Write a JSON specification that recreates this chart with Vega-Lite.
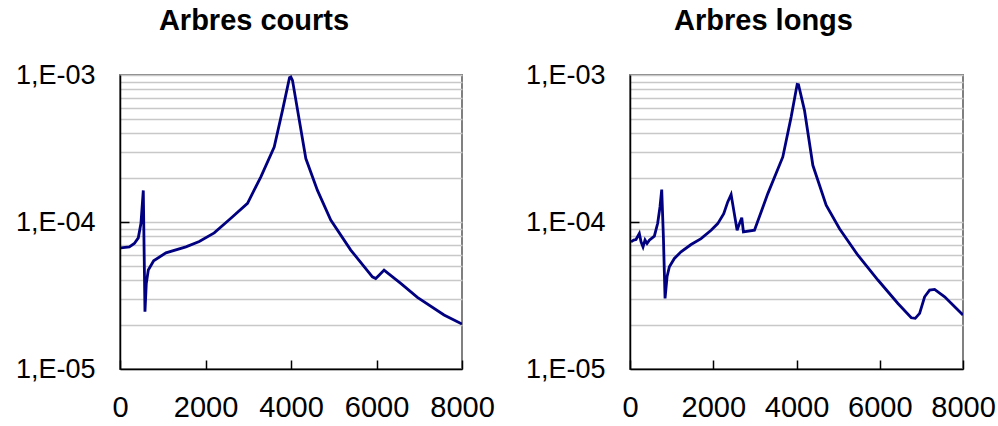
{
  "$schema": "https://vega.github.io/schema/vega-lite/v6.json",
  "padding": {"left": 14, "top": 6, "right": 5, "bottom": 5},
  "spacing": 28,
  "config": {
    "font": "Liberation Sans",
    "view": {"stroke": "#808080", "strokeWidth": 2},
    "title": {"font": "Liberation Sans", "fontSize": 29, "fontWeight": "bold", "color": "#000000", "offset": 25},
    "axis": {"labelFont": "Liberation Sans", "labelColor": "#000000", "domainColor": "#000000", "domainWidth": 1.5, "tickColor": "#000000", "tickWidth": 1.5, "titleFontSize": 0}
  },
  "datasets": {
    "courts": [
      {"f": 20, "v": 6.67e-5}, {"f": 218, "v": 6.77e-5}, {"f": 335, "v": 7.14e-5}, {"f": 428, "v": 7.8e-5},
      {"f": 490, "v": 9.8e-5}, {"f": 545, "v": 1.64e-4}, {"f": 584, "v": 2.45e-5}, {"f": 615, "v": 3.82e-5},
      {"f": 662, "v": 4.71e-5}, {"f": 787, "v": 5.45e-5}, {"f": 1075, "v": 6.17e-5}, {"f": 1542, "v": 6.77e-5},
      {"f": 1854, "v": 7.37e-5}, {"f": 2204, "v": 8.43e-5}, {"f": 2594, "v": 1.06e-4}, {"f": 2983, "v": 1.34e-4},
      {"f": 3295, "v": 2.03e-4}, {"f": 3607, "v": 3.24e-4}, {"f": 3801, "v": 5.75e-4}, {"f": 3965, "v": 9.6e-4},
      {"f": 3996, "v": 9.7e-4}, {"f": 4035, "v": 9.2e-4}, {"f": 4347, "v": 2.7e-4}, {"f": 4619, "v": 1.64e-4},
      {"f": 4930, "v": 1.03e-4}, {"f": 5398, "v": 6.44e-5}, {"f": 5904, "v": 4.24e-5}, {"f": 5982, "v": 4.13e-5},
      {"f": 6060, "v": 4.35e-5}, {"f": 6177, "v": 4.71e-5}, {"f": 6567, "v": 3.82e-5}, {"f": 6957, "v": 3.07e-5},
      {"f": 7580, "v": 2.33e-5}, {"f": 8000, "v": 2.02e-5}
    ],
    "longs": [
      {"f": 24, "v": 7.33e-5}, {"f": 88, "v": 7.53e-5}, {"f": 144, "v": 7.6e-5}, {"f": 224, "v": 8.35e-5},
      {"f": 265, "v": 7.33e-5}, {"f": 313, "v": 6.77e-5}, {"f": 361, "v": 7.53e-5}, {"f": 409, "v": 7.14e-5},
      {"f": 465, "v": 7.53e-5}, {"f": 585, "v": 8.01e-5}, {"f": 665, "v": 9.8e-5}, {"f": 721, "v": 1.27e-4},
      {"f": 762, "v": 1.66e-4}, {"f": 802, "v": 8.0e-5}, {"f": 842, "v": 3.02e-5}, {"f": 890, "v": 4.24e-5},
      {"f": 946, "v": 4.96e-5}, {"f": 1066, "v": 5.65e-5}, {"f": 1226, "v": 6.27e-5}, {"f": 1467, "v": 7.03e-5},
      {"f": 1707, "v": 7.71e-5}, {"f": 1948, "v": 8.79e-5}, {"f": 2108, "v": 9.75e-5}, {"f": 2252, "v": 1.14e-4},
      {"f": 2348, "v": 1.37e-4}, {"f": 2429, "v": 1.54e-4}, {"f": 2493, "v": 1.2e-4}, {"f": 2573, "v": 8.79e-5},
      {"f": 2629, "v": 9.75e-5}, {"f": 2685, "v": 1.07e-4}, {"f": 2725, "v": 8.57e-5}, {"f": 2990, "v": 8.79e-5},
      {"f": 3311, "v": 1.56e-4}, {"f": 3671, "v": 2.77e-4}, {"f": 3872, "v": 5.19e-4}, {"f": 4016, "v": 8.64e-4},
      {"f": 4048, "v": 8.6e-4}, {"f": 4192, "v": 5.75e-4}, {"f": 4393, "v": 2.43e-4}, {"f": 4713, "v": 1.3e-4},
      {"f": 5034, "v": 9.0e-5}, {"f": 5475, "v": 5.94e-5}, {"f": 5956, "v": 4.03e-5}, {"f": 6437, "v": 2.79e-5},
      {"f": 6757, "v": 2.23e-5}, {"f": 6853, "v": 2.21e-5}, {"f": 6958, "v": 2.39e-5}, {"f": 7078, "v": 3.1e-5},
      {"f": 7198, "v": 3.44e-5}, {"f": 7318, "v": 3.48e-5}, {"f": 7559, "v": 3.1e-5}, {"f": 8000, "v": 2.33e-5}
    ]
  },
  "hconcat": [
    {
      "title": {"text": "Arbres courts", "dx": -37},
      "width": 342,
      "height": 294,
      "data": {"name": "courts"},
      "mark": {"type": "line", "color": "#000080", "strokeWidth": 2.8, "clip": true},
      "encoding": {
        "x": {"field": "f", "type": "quantitative", "title": null,
          "scale": {"domain": [0, 8000], "nice": false, "zero": false},
          "axis": {"values": [0, 2000, 4000, 6000, 8000], "format": "d", "grid": false, "tickSize": -9, "labelPadding": 33, "labelFontSize": 29, "labelFlush": false, "labelOverlap": false}},
        "y": {"field": "v", "type": "quantitative", "title": null,
          "scale": {"type": "log", "domain": [0.00001, 0.001], "nice": false},
          "axis": {
            "values": [0.00001, 0.00002, 0.00003, 0.00004, 0.00005, 0.00006, 0.00007, 0.00008, 0.00009, 0.0001, 0.0002, 0.0003, 0.0004, 0.0005, 0.0006, 0.0007, 0.0008, 0.0009, 0.001],
            "labelExpr": "datum.value == 0.001 ? '1,E-03' : datum.value == 0.0001 ? '1,E-04' : datum.value == 0.00001 ? '1,E-05' : ''",
            "labelFontSize": 27, "labelPadding": 34, "labelOverlap": false, "labelBound": false,
            "tickSize": -9,
            "tickOpacity": {"condition": {"test": "datum.value == 0.0001", "value": 1}, "value": 0},
            "grid": true, "gridColor": "#c8c8c8", "gridWidth": 1.5,
            "minExtent": 105, "maxExtent": 105
          }}
      }
    },
    {
      "title": {"text": "Arbres longs", "dx": -33},
      "width": 333,
      "height": 294,
      "data": {"name": "longs"},
      "mark": {"type": "line", "color": "#000080", "strokeWidth": 2.8, "clip": true},
      "encoding": {
        "x": {"field": "f", "type": "quantitative", "title": null,
          "scale": {"domain": [0, 8000], "nice": false, "zero": false},
          "axis": {"values": [0, 2000, 4000, 6000, 8000], "format": "d", "grid": false, "tickSize": -9, "labelPadding": 33, "labelFontSize": 29, "labelFlush": false, "labelOverlap": false}},
        "y": {"field": "v", "type": "quantitative", "title": null,
          "scale": {"type": "log", "domain": [0.00001, 0.001], "nice": false},
          "axis": {
            "values": [0.00001, 0.00002, 0.00003, 0.00004, 0.00005, 0.00006, 0.00007, 0.00008, 0.00009, 0.0001, 0.0002, 0.0003, 0.0004, 0.0005, 0.0006, 0.0007, 0.0008, 0.0009, 0.001],
            "labelExpr": "datum.value == 0.001 ? '1,E-03' : datum.value == 0.0001 ? '1,E-04' : datum.value == 0.00001 ? '1,E-05' : ''",
            "labelFontSize": 27, "labelPadding": 34, "labelOverlap": false, "labelBound": false,
            "tickSize": -9,
            "tickOpacity": {"condition": {"test": "datum.value == 0.0001", "value": 1}, "value": 0},
            "grid": true, "gridColor": "#c8c8c8", "gridWidth": 1.5,
            "minExtent": 105, "maxExtent": 105
          }}
      }
    }
  ]
}
